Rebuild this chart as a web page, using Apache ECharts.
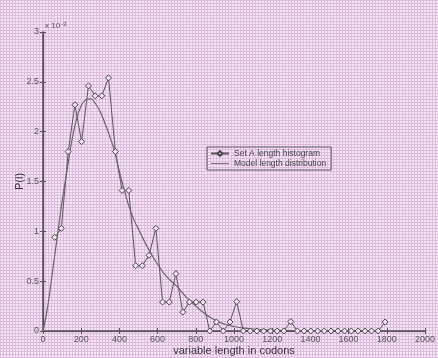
<!DOCTYPE html>
<html>
<head>
<meta charset="utf-8">
<script src="https://cdn.jsdelivr.net/npm/echarts@6/dist/echarts.min.js"></script>
<style>html,body{margin:0;padding:0;}#c{width:438px;height:358px;}</style>
</head>
<body>
<div id="c"></div>
<script>
// Histogram (Set A), x in codons, y in units of 1e-3
const histX = [61,96,132,167,202,238,273,308,343,379,414,449,485,520,555,591,626,661,696,732,767,802,838,873,908,944,979,1014,1049,1085,1120,1155,1191,1226,1261,1297,1332,1367,1402,1438,1473,1508,1544,1579,1614,1650,1685,1720,1755,1791];
const histY = [0.94,1.03,1.80,2.27,1.90,2.46,2.36,2.36,2.54,1.80,1.41,1.41,0.655,0.655,0.76,1.03,0.29,0.29,0.575,0.19,0.29,0.29,0.29,0,0.09,0,0.09,0.295,0,0,0,0,0,0,0,0.095,0,0,0,0,0,0,0,0,0,0,0,0,0,0.09];
// Model curve
const modelX = [0,25,50,75,100,125,150,175,200,225,250,275,300,325,350,375,400,425,450,475,500,550,600,650,700,750,800,850,900,950,1000,1050,1100,1200,1300,1400,1500,1800];
const modelY = [0,0.25,0.6,0.95,1.3,1.6,1.9,2.12,2.26,2.32,2.33,2.28,2.2,2.08,1.95,1.8,1.6,1.42,1.25,1.12,1.02,0.83,0.67,0.54,0.45,0.34,0.25,0.17,0.11,0.07,0.045,0.03,0.02,0.01,0.005,0.002,0,0];
const xTicks = {min:0, max:2000, interval:200};
const yTicks = {min:0, max:3, interval:0.5};
const seriesNames = ['Set A length histogram','Model length distribution'];

// background pattern
const pc = document.createElement('canvas');
pc.width = 3; pc.height = 3;
const px = pc.getContext('2d');
px.fillStyle = '#f4e8f4'; px.fillRect(0,0,3,3);
px.fillStyle = '#debade'; px.fillRect(0,0,3,1); px.fillRect(0,0,1,3);

const ink = '#5a505a';
const font = 'Liberation Sans, Arial, sans-serif';
const chart = echarts.init(document.getElementById('c'));
const zip = (a,b)=>a.map((v,i)=>[v,b[i]]);
chart.setOption({
  backgroundColor: {image: pc, repeat: 'repeat'},
  animation: false,
  grid: {left:43, right:13, top:32, bottom:27, containLabel:false, outerBoundsMode:'none'},
  textStyle: {fontFamily: font},
  legend: {
    left: 207, top: 147, orient: 'vertical',
    backgroundColor: {image: pc, repeat: 'repeat'},
    borderColor: ink, borderWidth: 1, padding: [2,5,2,3], itemGap: 1,
    itemWidth: 18, itemHeight: 6,
    textStyle: {fontSize: 8.5, color: '#444', fontFamily: font},
    data: [
      {name: seriesNames[0]},
      {name: seriesNames[1], icon: 'path://M0,3h20v1h-20z'}
    ]
  },
  xAxis: [
    {type:'value', min:xTicks.min, max:xTicks.max, interval:xTicks.interval,
     name:'variable length in codons', nameLocation:'middle', nameGap:14, nameMoveOverlap:false,
     nameTextStyle:{fontSize:11, color:'#3a333a', fontFamily:font, verticalAlign:'top'},
     axisLine:{lineStyle:{color:ink, width:1.5}},
     axisTick:{inside:true, length:3, lineStyle:{color:ink}},
     axisLabel:{fontSize:9, color:'#555', margin:4, formatter: v => String(v)},
     splitLine:{show:false}},
    {type:'value', position:'top', min:xTicks.min, max:xTicks.max, interval:xTicks.interval,
     axisLine:{show:true, lineStyle:{color:ink, width:1.2}},
     axisTick:{inside:true, length:3, lineStyle:{color:ink}},
     axisLabel:{show:false}, splitLine:{show:false}}
  ],
  yAxis: [
    {type:'value', min:yTicks.min, max:yTicks.max, interval:yTicks.interval,
     name:'P(l)', nameLocation:'middle', nameGap:18, nameRotate:90, nameMoveOverlap:false,
     nameTextStyle:{fontSize:11, color:'#3a333a', fontFamily:font},
     axisLine:{show:true, lineStyle:{color:ink, width:1.5}},
     axisTick:{show:true, inside:true, length:3, lineStyle:{color:ink}},
     axisLabel:{fontSize:9, color:'#555', margin:4, formatter: v => String(v)},
     splitLine:{show:false}},
    {type:'value', position:'right', min:yTicks.min, max:yTicks.max, interval:yTicks.interval,
     axisLine:{show:true, lineStyle:{color:ink, width:1.2}},
     axisTick:{show:true, inside:true, length:3, lineStyle:{color:ink}},
     axisLabel:{show:false}, splitLine:{show:false}}
  ],
  graphic: [{
    type:'text', left:45, top:21,
    style:{text:'{a|x 10}{b|-3}', rich:{a:{fontSize:8, fill:'#555', fontFamily:font}, b:{fontSize:6, fill:'#555', verticalAlign:'top', padding:[0,0,4,1], fontFamily:font}}}
  }],
  series: [
    {name:seriesNames[0], type:'line', data:zip(histX,histY),
     symbol:'diamond', symbolSize:6, showAllSymbol:true,
     lineStyle:{color:'#5a555a', width:1},
     itemStyle:{color:'#f0e2f0', borderColor:'#4a454a', borderWidth:1}},
    {name:seriesNames[1], type:'line', data:zip(modelX,modelY), smooth:true,
     symbol:'none', lineStyle:{color:'#6a646a', width:1.2},
     itemStyle:{color:'#6a646a'}}
  ]
});
</script>
</body>
</html>
